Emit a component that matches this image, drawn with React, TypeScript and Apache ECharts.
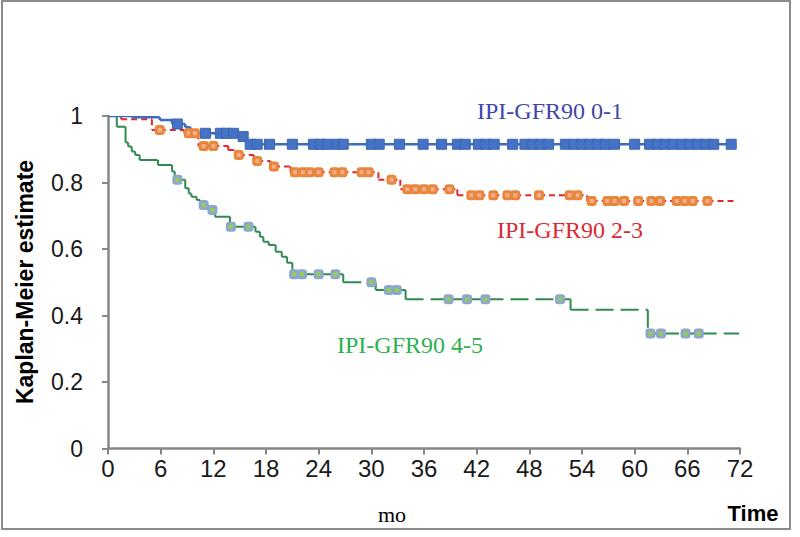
import { useEffect, useRef } from "react";
import * as echarts from "echarts";

// ---- Data (time in months, Kaplan-Meier survival estimate) ----
// IPI-GFR90 0-1
const lowEventTimes = [2.7, 5.9, 7.3, 8.8, 9.4, 15.1, 15.8];
const lowSurvival = [0.996, 0.988, 0.976, 0.966, 0.948, 0.938, 0.915];
const lowCensorTimes = [
  7.9, 11.1, 12.8, 13.5, 14.3, 15.4, 16.2, 17.0, 18.4, 21.0, 23.4, 24.2, 25.0, 26.1, 26.8,
  30.0, 30.9, 33.2, 35.9, 38.0, 39.8, 40.7, 42.2, 43.1, 44.0, 46.1, 47.5, 48.4, 49.3, 50.2,
  52.1, 53.1, 54.0, 54.9, 55.8, 56.7, 57.7, 60.0, 61.7, 62.6, 63.5, 64.4, 65.4, 66.3, 67.2,
  68.1, 69.0, 71.0,
];
const lowEnd = 71.5;

// IPI-GFR90 2-3
const midEventTimes = [1.5, 5.0, 8.7, 10.3, 13.7, 14.6, 16.6, 18.5, 20.8, 30.8, 33.3, 39.8, 54.6];
const midSurvival = [0.99, 0.958, 0.948, 0.91, 0.898, 0.883, 0.865, 0.848, 0.831, 0.808, 0.78, 0.762, 0.744];
const midCensorTimes = [
  5.9, 9.2, 9.9, 10.9, 12.0, 14.9, 17.0, 18.9, 21.3, 22.2, 23.0, 24.0, 25.8, 26.7, 28.9, 29.7,
  32.3, 34.1, 35.0, 36.0, 37.0, 38.9, 41.4, 42.3, 43.9, 45.5, 46.4, 49.1, 52.6, 53.5, 55.1,
  56.9, 57.7, 58.8, 60.4, 61.9, 62.9, 64.8, 65.7, 66.6, 68.3,
];
const midEnd = 71.5;

// IPI-GFR90 4-5
const highEventTimes = [
  1.0, 2.0, 2.3, 2.7, 3.1, 3.6, 5.7, 7.3, 7.6, 8.8, 9.2, 9.5, 10.1, 10.5, 11.4, 12.2, 13.9,
  16.8, 17.3, 17.7, 18.3, 19.1, 19.8, 20.4, 21.0, 26.8, 30.5, 33.9, 52.7, 61.5,
];
const highSurvival = [
  0.968, 0.92, 0.908, 0.893, 0.883, 0.868, 0.853, 0.833, 0.808, 0.783, 0.767, 0.757, 0.747,
  0.732, 0.717, 0.697, 0.667, 0.652, 0.637, 0.622, 0.612, 0.592, 0.577, 0.559, 0.524, 0.5,
  0.477, 0.449, 0.417, 0.346,
];
const highCensorTimes = [
  7.9, 10.9, 11.9, 14.0, 16.0, 21.2, 22.1, 24.0, 25.9, 30.0, 32.0, 32.9, 38.8, 40.9, 43.0,
  51.5, 61.8, 63.0, 65.8, 67.3,
];
const highEnd = 71.9;

const groupLabels = ["IPI-GFR90 0-1", "IPI-GFR90 2-3", "IPI-GFR90 4-5"];

// ---- helpers ----
function buildSegments(events: number[], surv: number[], censors: number[], end: number) {
  const evMap = new Map<number, number>();
  events.forEach((t, i) => evMap.set(t, surv[i]));
  const pts = Array.from(new Set([0, ...events, ...censors, end])).sort((a, b) => a - b);
  let s = 1;
  const segs: number[][] = [];
  for (let i = 0; i < pts.length - 1; i++) {
    const a = pts[i];
    const b = pts[i + 1];
    segs.push([a, s, b, s]);
    if (evMap.has(b)) {
      const ns = evMap.get(b) as number;
      segs.push([b, s, b, ns]);
      s = ns;
    }
  }
  return segs;
}

function censorPoints(events: number[], surv: number[], censors: number[]) {
  return censors.map((t) => {
    let s = 1;
    events.forEach((e, i) => {
      if (e <= t) s = surv[i];
    });
    return [t, s];
  });
}

function segSeries(segs: number[][], color: string, width: number, dash: number[] | null) {
  return {
    type: "custom",
    silent: true,
    clip: true,
    encode: { x: [0, 2], y: [1, 3] },
    data: segs,
    renderItem: (_params: any, api: any) => {
      const p1 = api.coord([api.value(0), api.value(1)]);
      const p2 = api.coord([api.value(2), api.value(3)]);
      return {
        type: "line",
        shape: { x1: p1[0], y1: p1[1], x2: p2[0], y2: p2[1] },
        style: { stroke: color, lineWidth: width, lineDash: dash || undefined, fill: null },
      };
    },
  };
}

const AXIS_COLOR = "#868686";

export default function App() {
  const ref = useRef<HTMLDivElement>(null);

  useEffect(() => {
    if (!ref.current) return;
    const chart = echarts.init(ref.current, null, { renderer: "svg" });

    const lowSegs = buildSegments(lowEventTimes, lowSurvival, lowCensorTimes, lowEnd);
    const midSegs = buildSegments(midEventTimes, midSurvival, midCensorTimes, midEnd);
    const highSegs = buildSegments(highEventTimes, highSurvival, highCensorTimes, highEnd);

    const option: any = {
      animation: false,
      backgroundColor: "#ffffff",
      grid: { left: 108, right: 60, top: 116, bottom: 88.5, containLabel: false, outerBoundsMode: "none" },
      xAxis: {
        type: "value",
        min: 0,
        max: 72,
        interval: 6,
        axisLine: { show: true, onZero: false, lineStyle: { color: AXIS_COLOR, width: 2.5 } },
        axisTick: { show: true, inside: false, length: 6, lineStyle: { color: AXIS_COLOR, width: 2 } },
        axisLabel: {
          fontSize: 24,
          fontFamily: "'Liberation Sans Narrow', 'Liberation Sans', sans-serif",
          color: "#1a1a1a",
          margin: 8,
        },
        splitLine: { show: false },
      },
      yAxis: {
        type: "value",
        min: 0,
        max: 1,
        interval: 0.2,
        axisLine: { show: true, lineStyle: { color: AXIS_COLOR, width: 2.5 } },
        axisTick: { show: true, inside: false, length: 6, lineStyle: { color: AXIS_COLOR, width: 2 } },
        axisLabel: {
          fontSize: 23,
          fontFamily: "'Liberation Sans', sans-serif",
          color: "#1a1a1a",
          margin: 25,
          formatter: (v: number) => String(Math.round(v * 10) / 10),
        },
        splitLine: { show: false },
      },
      series: [
        segSeries(midSegs, "#e3282c", 2, [6, 4]),
        segSeries(highSegs, "#2f8a4f", 2, [18, 7]),
        segSeries(lowSegs, "#3a6dbd", 2.5, null),
        {
          type: "scatter",
          name: groupLabels[0],
          symbol: "rect",
          symbolSize: [10, 10],
          itemStyle: { color: "#4472c4", borderColor: "#3c66b0", borderWidth: 1, opacity: 1 },
          data: censorPoints(lowEventTimes, lowSurvival, lowCensorTimes),
          z: 5,
        },
        {
          type: "scatter",
          name: groupLabels[1],
          symbol: "roundRect",
          symbolSize: [7, 7],
          itemStyle: { color: "#f2ad94", borderColor: "#e8863a", borderWidth: 3, opacity: 1 },
          data: censorPoints(midEventTimes, midSurvival, midCensorTimes),
          z: 5,
        },
        {
          type: "scatter",
          name: groupLabels[2],
          symbol: "roundRect",
          symbolSize: [7, 7],
          itemStyle: { color: "#92d050", borderColor: "#8ea8cc", borderWidth: 3, opacity: 1 },
          data: censorPoints(highEventTimes, highSurvival, highCensorTimes),
          z: 5,
        },
      ],
      graphic: [
        {
          type: "rect",
          shape: { x: 2, y: 1, width: 788, height: 528 },
          style: { fill: "transparent", stroke: "#8a8a8a", lineWidth: 2 },
          silent: true,
          z: 0,
        },
        {
          type: "text",
          x: 477,
          y: 111,
          style: {
            text: groupLabels[0],
            fill: "#3f48a8",
            font: "24px 'Liberation Serif', 'Times New Roman', serif",
            textAlign: "left",
            textVerticalAlign: "middle",
          },
        },
        {
          type: "text",
          x: 497,
          y: 230,
          style: {
            text: groupLabels[1],
            fill: "#d92b34",
            font: "24px 'Liberation Serif', 'Times New Roman', serif",
            textAlign: "left",
            textVerticalAlign: "middle",
          },
        },
        {
          type: "text",
          x: 337,
          y: 345,
          style: {
            text: groupLabels[2],
            fill: "#2eb04f",
            font: "24px 'Liberation Serif', 'Times New Roman', serif",
            textAlign: "left",
            textVerticalAlign: "middle",
          },
        },
        {
          type: "text",
          x: 25,
          y: 282,
          rotation: Math.PI / 2,
          style: {
            text: "Kaplan-Meier estimate",
            fill: "#000000",
            font: "bold 23px 'Liberation Sans', sans-serif",
            textAlign: "center",
            textVerticalAlign: "middle",
          },
        },
        {
          type: "text",
          x: 753,
          y: 513,
          style: {
            text: "Time",
            fill: "#000000",
            font: "bold 22px 'Liberation Sans Narrow', 'Liberation Sans', sans-serif",
            textAlign: "center",
            textVerticalAlign: "middle",
          },
        },
        {
          type: "text",
          x: 392,
          y: 514,
          style: {
            text: "mo",
            fill: "#000000",
            font: "22px 'Liberation Serif', 'Times New Roman', serif",
            textAlign: "center",
            textVerticalAlign: "middle",
          },
        },
      ],
    };

    chart.setOption(option);
    return () => chart.dispose();
  }, []);

  return (
    <div
      ref={ref}
      style={{ position: "fixed", left: 0, top: 0, width: 800, height: 537, background: "#fff" }}
    />
  );
}
